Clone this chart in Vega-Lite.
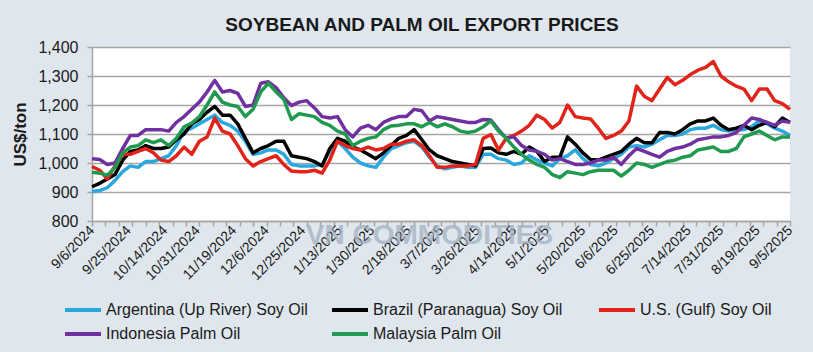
{
  "$schema": "https://vega.github.io/schema/vega-lite/v6.json",
  "autosize": "none",
  "width": 698,
  "height": 174,
  "padding": {"left": 92, "top": 47, "right": 23, "bottom": 131},
  "background": "#dfe6ed",
  "title": {
    "text": "SOYBEAN AND PALM OIL EXPORT PRICES",
    "frame": "group",
    "anchor": "middle",
    "dx": -19,
    "offset": 4,
    "font": "Liberation Sans",
    "fontSize": 19,
    "fontWeight": "bold",
    "color": "#1a1a1a"
  },
  "config": {
    "view": {"fill": "white", "stroke": null},
    "axis": {"labelColor": "#1a1a1a", "titleColor": "#1a1a1a", "domainColor": "#a6a6a6", "tickColor": "#a6a6a6", "gridColor": "#a6a6a6"}
  },
  "data": {
    "values": [
      {"d": "2024-09-06", "ar": 902, "br": 918, "us": 988, "id": 1015, "my": 968},
      {"d": "2024-09-10", "ar": 905, "br": 930, "us": 975, "id": 1012, "my": 965},
      {"d": "2024-09-14", "ar": 915, "br": 945, "us": 945, "id": 995, "my": 958},
      {"d": "2024-09-18", "ar": 940, "br": 960, "us": 990, "id": 1000, "my": 985},
      {"d": "2024-09-22", "ar": 970, "br": 1010, "us": 1030, "id": 1050, "my": 1035},
      {"d": "2024-09-26", "ar": 990, "br": 1040, "us": 1030, "id": 1095, "my": 1055},
      {"d": "2024-09-30", "ar": 985, "br": 1045, "us": 1040, "id": 1095, "my": 1060},
      {"d": "2024-10-04", "ar": 1005, "br": 1060, "us": 1050, "id": 1115, "my": 1080},
      {"d": "2024-10-08", "ar": 1005, "br": 1050, "us": 1035, "id": 1115, "my": 1070},
      {"d": "2024-10-12", "ar": 1015, "br": 1050, "us": 1010, "id": 1115, "my": 1080},
      {"d": "2024-10-16", "ar": 1025, "br": 1055, "us": 1005, "id": 1110, "my": 1060},
      {"d": "2024-10-20", "ar": 1060, "br": 1080, "us": 1025, "id": 1140, "my": 1085},
      {"d": "2024-10-24", "ar": 1110, "br": 1100, "us": 1055, "id": 1160, "my": 1125},
      {"d": "2024-10-28", "ar": 1120, "br": 1135, "us": 1030, "id": 1185, "my": 1138},
      {"d": "2024-11-01", "ar": 1135, "br": 1150, "us": 1075, "id": 1210, "my": 1160},
      {"d": "2024-11-05", "ar": 1150, "br": 1175, "us": 1090, "id": 1245, "my": 1200},
      {"d": "2024-11-09", "ar": 1165, "br": 1195, "us": 1155, "id": 1285, "my": 1245},
      {"d": "2024-11-13", "ar": 1140, "br": 1165, "us": 1110, "id": 1245, "my": 1210},
      {"d": "2024-11-17", "ar": 1130, "br": 1165, "us": 1100, "id": 1250, "my": 1200},
      {"d": "2024-11-21", "ar": 1110, "br": 1135, "us": 1060, "id": 1240, "my": 1195},
      {"d": "2024-11-25", "ar": 1075, "br": 1085, "us": 1015, "id": 1195, "my": 1160},
      {"d": "2024-11-29", "ar": 1030, "br": 1035, "us": 990, "id": 1200, "my": 1185},
      {"d": "2024-12-03", "ar": 1035, "br": 1050, "us": 1005, "id": 1275, "my": 1245},
      {"d": "2024-12-07", "ar": 1045, "br": 1060, "us": 1015, "id": 1280, "my": 1275},
      {"d": "2024-12-11", "ar": 1045, "br": 1075, "us": 1025, "id": 1260, "my": 1245},
      {"d": "2024-12-15", "ar": 1030, "br": 1075, "us": 995, "id": 1225, "my": 1220},
      {"d": "2024-12-19", "ar": 995, "br": 1025, "us": 972, "id": 1198, "my": 1150},
      {"d": "2024-12-23", "ar": 990, "br": 1020, "us": 970, "id": 1210, "my": 1170},
      {"d": "2024-12-27", "ar": 990, "br": 1015, "us": 970, "id": 1215, "my": 1165},
      {"d": "2024-12-31", "ar": 990, "br": 1005, "us": 975, "id": 1190, "my": 1160},
      {"d": "2025-01-04", "ar": 995, "br": 990, "us": 965, "id": 1160, "my": 1140},
      {"d": "2025-01-08", "ar": 1040, "br": 1050, "us": 1010, "id": 1155, "my": 1130},
      {"d": "2025-01-12", "ar": 1075, "br": 1085, "us": 1075, "id": 1160, "my": 1110},
      {"d": "2025-01-16", "ar": 1050, "br": 1075, "us": 1060, "id": 1115, "my": 1100},
      {"d": "2025-01-20", "ar": 1020, "br": 1055, "us": 1050, "id": 1090, "my": 1060},
      {"d": "2025-01-24", "ar": 1000, "br": 1045, "us": 1045, "id": 1120, "my": 1075},
      {"d": "2025-01-28", "ar": 990, "br": 1030, "us": 1055, "id": 1130, "my": 1085},
      {"d": "2025-02-01", "ar": 985, "br": 1015, "us": 1045, "id": 1115, "my": 1090},
      {"d": "2025-02-05", "ar": 1020, "br": 1035, "us": 1050, "id": 1140, "my": 1115},
      {"d": "2025-02-09", "ar": 1050, "br": 1060, "us": 1065, "id": 1152, "my": 1128},
      {"d": "2025-02-13", "ar": 1060, "br": 1085, "us": 1065, "id": 1160, "my": 1130},
      {"d": "2025-02-17", "ar": 1070, "br": 1095, "us": 1075, "id": 1160, "my": 1135},
      {"d": "2025-02-21", "ar": 1075, "br": 1115, "us": 1080, "id": 1185, "my": 1135},
      {"d": "2025-02-25", "ar": 1055, "br": 1080, "us": 1060, "id": 1180, "my": 1125},
      {"d": "2025-03-01", "ar": 1020, "br": 1045, "us": 1025, "id": 1145, "my": 1140},
      {"d": "2025-03-05", "ar": 990, "br": 1025, "us": 985, "id": 1160, "my": 1125},
      {"d": "2025-03-09", "ar": 980, "br": 1015, "us": 985, "id": 1155, "my": 1135},
      {"d": "2025-03-13", "ar": 985, "br": 1005, "us": 990, "id": 1150, "my": 1125},
      {"d": "2025-03-17", "ar": 990, "br": 1000, "us": 990, "id": 1145, "my": 1110},
      {"d": "2025-03-21", "ar": 985, "br": 995, "us": 990, "id": 1140, "my": 1105},
      {"d": "2025-03-25", "ar": 985, "br": 990, "us": 995, "id": 1140, "my": 1110},
      {"d": "2025-03-29", "ar": 1030, "br": 1050, "us": 1085, "id": 1150, "my": 1125},
      {"d": "2025-04-02", "ar": 1030, "br": 1052, "us": 1098, "id": 1148, "my": 1145},
      {"d": "2025-04-06", "ar": 1015, "br": 1035, "us": 1045, "id": 1115, "my": 1110},
      {"d": "2025-04-10", "ar": 1010, "br": 1030, "us": 1085, "id": 1085, "my": 1085},
      {"d": "2025-04-14", "ar": 995, "br": 1040, "us": 1095, "id": 1090, "my": 1055},
      {"d": "2025-04-18", "ar": 1000, "br": 1030, "us": 1110, "id": 1060, "my": 1030},
      {"d": "2025-04-22", "ar": 1025, "br": 1055, "us": 1130, "id": 1045, "my": 1010},
      {"d": "2025-04-26", "ar": 1010, "br": 1040, "us": 1165, "id": 1040, "my": 995},
      {"d": "2025-04-30", "ar": 1000, "br": 1005, "us": 1150, "id": 1030, "my": 985},
      {"d": "2025-05-04", "ar": 990, "br": 1020, "us": 1120, "id": 1010, "my": 960},
      {"d": "2025-05-08", "ar": 1015, "br": 1020, "us": 1140, "id": 1015, "my": 950},
      {"d": "2025-05-12", "ar": 1025, "br": 1090, "us": 1200, "id": 1005, "my": 970},
      {"d": "2025-05-16", "ar": 1045, "br": 1065, "us": 1160, "id": 995, "my": 965},
      {"d": "2025-05-20", "ar": 1015, "br": 1035, "us": 1155, "id": 995, "my": 960},
      {"d": "2025-05-24", "ar": 995, "br": 1012, "us": 1152, "id": 1000, "my": 970},
      {"d": "2025-05-28", "ar": 990, "br": 1010, "us": 1120, "id": 1010, "my": 975},
      {"d": "2025-06-01", "ar": 1000, "br": 1020, "us": 1085, "id": 1010, "my": 975},
      {"d": "2025-06-05", "ar": 1015, "br": 1030, "us": 1095, "id": 1020, "my": 975},
      {"d": "2025-06-09", "ar": 1030, "br": 1040, "us": 1110, "id": 995, "my": 955},
      {"d": "2025-06-13", "ar": 1055, "br": 1065, "us": 1145, "id": 1025, "my": 975},
      {"d": "2025-06-17", "ar": 1060, "br": 1085, "us": 1265, "id": 1050, "my": 1000},
      {"d": "2025-06-21", "ar": 1055, "br": 1070, "us": 1230, "id": 1040, "my": 995},
      {"d": "2025-06-25", "ar": 1065, "br": 1070, "us": 1215, "id": 1030, "my": 985},
      {"d": "2025-06-29", "ar": 1080, "br": 1105, "us": 1255, "id": 1020, "my": 995},
      {"d": "2025-07-03", "ar": 1095, "br": 1105, "us": 1295, "id": 1040, "my": 1005},
      {"d": "2025-07-07", "ar": 1095, "br": 1100, "us": 1270, "id": 1050, "my": 1010},
      {"d": "2025-07-11", "ar": 1100, "br": 1115, "us": 1285, "id": 1055, "my": 1020},
      {"d": "2025-07-15", "ar": 1115, "br": 1135, "us": 1305, "id": 1065, "my": 1025},
      {"d": "2025-07-19", "ar": 1120, "br": 1145, "us": 1320, "id": 1080, "my": 1045},
      {"d": "2025-07-23", "ar": 1120, "br": 1145, "us": 1330, "id": 1085, "my": 1050},
      {"d": "2025-07-27", "ar": 1130, "br": 1155, "us": 1350, "id": 1090, "my": 1055},
      {"d": "2025-07-31", "ar": 1115, "br": 1130, "us": 1300, "id": 1090, "my": 1040},
      {"d": "2025-08-04", "ar": 1110, "br": 1115, "us": 1280, "id": 1095, "my": 1040},
      {"d": "2025-08-08", "ar": 1115, "br": 1120, "us": 1265, "id": 1105, "my": 1050},
      {"d": "2025-08-12", "ar": 1115, "br": 1130, "us": 1255, "id": 1130, "my": 1090},
      {"d": "2025-08-16", "ar": 1125, "br": 1115, "us": 1215, "id": 1155, "my": 1100},
      {"d": "2025-08-20", "ar": 1145, "br": 1130, "us": 1255, "id": 1150, "my": 1110},
      {"d": "2025-08-24", "ar": 1135, "br": 1140, "us": 1255, "id": 1140, "my": 1095},
      {"d": "2025-08-28", "ar": 1120, "br": 1125, "us": 1215, "id": 1130, "my": 1080},
      {"d": "2025-09-01", "ar": 1110, "br": 1155, "us": 1205, "id": 1145, "my": 1090},
      {"d": "2025-09-05", "ar": 1095, "br": 1140, "us": 1185, "id": 1140, "my": 1090}
    ]
  },
  "resolve": {"axis": {"x": "independent", "y": "independent"}},
  "layer": [
    {
      "mark": {"type": "point", "opacity": 0},
      "encoding": {
        "x": {
          "field": "d",
          "type": "temporal",
          "axis": {
            "orient": "bottom",
            "title": null,
            "labels": false,
            "domain": true,
            "domainWidth": 1.5,
            "grid": false,
            "ticks": true,
            "tickSize": 5,
            "tickWidth": 1.5,
            "values": [
              {"year": 2024, "month": 9, "date": 6, "utc": true},
              {"year": 2024, "month": 9, "date": 13, "utc": true},
              {"year": 2024, "month": 9, "date": 20, "utc": true},
              {"year": 2024, "month": 9, "date": 27, "utc": true},
              {"year": 2024, "month": 10, "date": 4, "utc": true},
              {"year": 2024, "month": 10, "date": 11, "utc": true},
              {"year": 2024, "month": 10, "date": 18, "utc": true},
              {"year": 2024, "month": 10, "date": 25, "utc": true},
              {"year": 2024, "month": 11, "date": 1, "utc": true},
              {"year": 2024, "month": 11, "date": 8, "utc": true},
              {"year": 2024, "month": 11, "date": 15, "utc": true},
              {"year": 2024, "month": 11, "date": 22, "utc": true},
              {"year": 2024, "month": 11, "date": 29, "utc": true},
              {"year": 2024, "month": 12, "date": 6, "utc": true},
              {"year": 2024, "month": 12, "date": 13, "utc": true},
              {"year": 2024, "month": 12, "date": 20, "utc": true},
              {"year": 2024, "month": 12, "date": 27, "utc": true},
              {"year": 2025, "month": 1, "date": 3, "utc": true},
              {"year": 2025, "month": 1, "date": 10, "utc": true},
              {"year": 2025, "month": 1, "date": 17, "utc": true},
              {"year": 2025, "month": 1, "date": 24, "utc": true},
              {"year": 2025, "month": 1, "date": 31, "utc": true},
              {"year": 2025, "month": 2, "date": 7, "utc": true},
              {"year": 2025, "month": 2, "date": 14, "utc": true},
              {"year": 2025, "month": 2, "date": 21, "utc": true},
              {"year": 2025, "month": 2, "date": 28, "utc": true},
              {"year": 2025, "month": 3, "date": 7, "utc": true},
              {"year": 2025, "month": 3, "date": 14, "utc": true},
              {"year": 2025, "month": 3, "date": 21, "utc": true},
              {"year": 2025, "month": 3, "date": 28, "utc": true},
              {"year": 2025, "month": 4, "date": 4, "utc": true},
              {"year": 2025, "month": 4, "date": 11, "utc": true},
              {"year": 2025, "month": 4, "date": 18, "utc": true},
              {"year": 2025, "month": 4, "date": 25, "utc": true},
              {"year": 2025, "month": 5, "date": 2, "utc": true},
              {"year": 2025, "month": 5, "date": 9, "utc": true},
              {"year": 2025, "month": 5, "date": 16, "utc": true},
              {"year": 2025, "month": 5, "date": 23, "utc": true},
              {"year": 2025, "month": 5, "date": 30, "utc": true},
              {"year": 2025, "month": 6, "date": 6, "utc": true},
              {"year": 2025, "month": 6, "date": 13, "utc": true},
              {"year": 2025, "month": 6, "date": 20, "utc": true},
              {"year": 2025, "month": 6, "date": 27, "utc": true},
              {"year": 2025, "month": 7, "date": 4, "utc": true},
              {"year": 2025, "month": 7, "date": 11, "utc": true},
              {"year": 2025, "month": 7, "date": 18, "utc": true},
              {"year": 2025, "month": 7, "date": 25, "utc": true},
              {"year": 2025, "month": 8, "date": 1, "utc": true},
              {"year": 2025, "month": 8, "date": 8, "utc": true},
              {"year": 2025, "month": 8, "date": 15, "utc": true},
              {"year": 2025, "month": 8, "date": 22, "utc": true},
              {"year": 2025, "month": 8, "date": 29, "utc": true},
              {"year": 2025, "month": 9, "date": 5, "utc": true}
            ]
          }
        }
      }
    },
    {
      "data": {"values": [{"t": "VN COMMODITIES"}]},
      "mark": {"type": "text", "font": "Liberation Sans", "fontWeight": "bold", "fontSize": 28, "color": "#a3b1c2", "opacity": 0.75, "align": "center", "baseline": "middle"},
      "encoding": {
        "x": {"datum": {"year": 2025, "month": 3, "date": 1, "utc": true}, "type": "temporal", "axis": null},
        "y": {"datum": 748, "type": "quantitative", "axis": null},
        "text": {"field": "t", "type": "nominal"}
      }
    },
    {
      "transform": [{"fold": ["ar", "br", "us", "id", "my"], "as": ["k", "v"]}],
      "mark": {"type": "line", "strokeWidth": 3.5, "strokeJoin": "round"},
      "encoding": {
        "x": {
          "field": "d",
          "type": "temporal",
          "scale": {"type": "utc", "nice": false, "domain": [{"year": 2024, "month": 9, "date": 6, "utc": true}, {"year": 2025, "month": 9, "date": 5, "utc": true}]},
          "axis": {
            "orient": "bottom",
            "title": null,
            "grid": false,
            "ticks": false,
            "domain": false,
            "labelAngle": -45,
            "labelAlign": "right",
            "labelBaseline": "middle",
            "labelPadding": 7,
            "labelFont": "Liberation Sans",
            "labelFontSize": 14,
            "labelOverlap": false,
            "labelBound": false,
            "labelFlush": false,
            "labelExpr": "utcFormat(datum.value, '%-m/%-d/%Y')",
            "values": [
              {"year": 2024, "month": 9, "date": 6, "utc": true},
              {"year": 2024, "month": 9, "date": 25, "utc": true},
              {"year": 2024, "month": 10, "date": 14, "utc": true},
              {"year": 2024, "month": 10, "date": 31, "utc": true},
              {"year": 2024, "month": 11, "date": 19, "utc": true},
              {"year": 2024, "month": 12, "date": 6, "utc": true},
              {"year": 2024, "month": 12, "date": 25, "utc": true},
              {"year": 2025, "month": 1, "date": 13, "utc": true},
              {"year": 2025, "month": 1, "date": 30, "utc": true},
              {"year": 2025, "month": 2, "date": 18, "utc": true},
              {"year": 2025, "month": 3, "date": 7, "utc": true},
              {"year": 2025, "month": 3, "date": 26, "utc": true},
              {"year": 2025, "month": 4, "date": 14, "utc": true},
              {"year": 2025, "month": 5, "date": 1, "utc": true},
              {"year": 2025, "month": 5, "date": 20, "utc": true},
              {"year": 2025, "month": 6, "date": 6, "utc": true},
              {"year": 2025, "month": 6, "date": 25, "utc": true},
              {"year": 2025, "month": 7, "date": 14, "utc": true},
              {"year": 2025, "month": 7, "date": 31, "utc": true},
              {"year": 2025, "month": 8, "date": 19, "utc": true},
              {"year": 2025, "month": 9, "date": 5, "utc": true}
            ]
          }
        },
        "y": {
          "field": "v",
          "type": "quantitative",
          "scale": {"domain": [800, 1400], "nice": false, "zero": false},
          "axis": {
            "orient": "left",
            "title": "US$/ton",
            "titleFont": "Liberation Sans",
            "titleFontSize": 17,
            "titleFontWeight": "bold",
            "titlePadding": 8,
            "values": [800, 900, 1000, 1100, 1200, 1300, 1400],
            "format": ",.0f",
            "labelFont": "Liberation Sans",
            "labelFontSize": 16,
            "labelPadding": 9,
            "tickSize": 5,
            "grid": true,
            "gridWidth": 1.5,
            "domainWidth": 1.5,
            "tickWidth": 1.5
          }
        },
        "color": {
          "field": "k",
          "type": "nominal",
          "scale": {"domain": ["ar", "br", "us", "id", "my"], "range": ["#2aa7dc", "#000000", "#e2231a", "#7030a0", "#1f9a4f"]},
          "legend": {
            "title": null,
            "orient": "none",
            "legendX": -23,
            "legendY": 249,
            "direction": "horizontal",
            "columns": 3,
            "gridAlign": "all",
            "columnPadding": 16,
            "rowPadding": 2,
            "symbolType": "M-1.5,0H1.5",
            "symbolSize": 576,
            "symbolStrokeWidth": 4,
            "labelFont": "Liberation Sans",
            "labelFontSize": 16,
            "labelColor": "#1a1a1a",
            "labelOffset": 9,
            "labelLimit": 400,
            "labelExpr": "datum.label == 'ar' ? 'Argentina (Up River) Soy Oil' : datum.label == 'br' ? 'Brazil (Paranagua) Soy Oil' : datum.label == 'us' ? 'U.S. (Gulf) Soy Oil' : datum.label == 'id' ? 'Indonesia Palm Oil' : 'Malaysia Palm Oil'"
          }
        }
      }
    }
  ]
}
